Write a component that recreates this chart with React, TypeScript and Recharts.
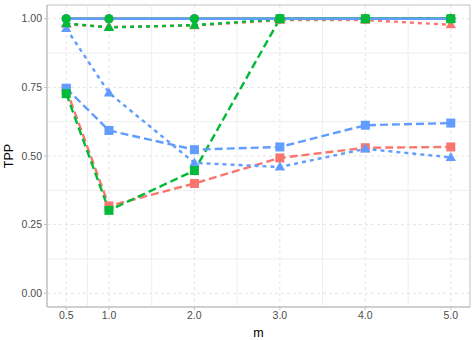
import React from "react";
import { LineChart, Line, XAxis, YAxis, CartesianGrid, ReferenceLine, ReferenceArea } from "recharts";

const mValues = [0.5, 1, 2, 3, 4, 5];
const xTicks = [0.5, 1, 2, 3, 4, 5];
const yTicks = [0, 0.25, 0.5, 0.75, 1];
const xMinor = [0.75, 1.5, 2.5, 3.5, 4.5];
const yMinor = [0.125, 0.375, 0.625, 0.875];

const redCircle = [1, 1, 1, 1, 1, 1];
const redTriangle = [0.98, 0.97, 0.975, 0.995, 0.995, 0.978];
const redSquare = [0.744, 0.318, 0.4, 0.493, 0.53, 0.533];
const greenCircle = [1, 1, 1, 1, 1, 1];
const greenTriangle = [0.983, 0.968, 0.977, 0.998, 1.0, 1.0];
const greenSquare = [0.727, 0.302, 0.447, 1.0, 1.0, 1.0];
const blueCircle = [1, 1, 1, 1, 1, 1];
const blueTriangle = [0.965, 0.73, 0.475, 0.46, 0.526, 0.495];
const blueSquare = [0.747, 0.593, 0.523, 0.533, 0.612, 0.62];

const RED = "#F8766D";
const GREEN = "#00BA38";
const BLUE = "#619CFF";

const series = [
  { key: "rc", vals: redCircle, color: RED, shape: "circle" },
  { key: "rt", vals: redTriangle, color: RED, shape: "triangle" },
  { key: "rs", vals: redSquare, color: RED, shape: "square" },
  { key: "gc", vals: greenCircle, color: GREEN, shape: "circle" },
  { key: "gt", vals: greenTriangle, color: GREEN, shape: "triangle" },
  { key: "gs", vals: greenSquare, color: GREEN, shape: "square" },
  { key: "bc", vals: blueCircle, color: BLUE, shape: "circle" },
  { key: "bt", vals: blueTriangle, color: BLUE, shape: "triangle" },
  { key: "bs", vals: blueSquare, color: BLUE, shape: "square" },
];

const pointOrder = ["rc", "rt", "rs", "bc", "bt", "bs", "gc", "gt", "gs"];

const data = mValues.map((m, i) => {
  const row: any = { m };
  series.forEach((s) => {
    row[s.key] = s.vals[i];
  });
  return row;
});

const dash = (shape: string) =>
  shape === "circle" ? undefined : shape === "square" ? "8 4" : "4 4";

const makeDot = (shape: string, color: string) => (props: any) => {
  const { cx, cy, key } = props;
  if (cx == null || cy == null) return <g key={key} />;
  if (shape === "circle") return <circle key={key} cx={cx} cy={cy} r={4.6} fill={color} />;
  if (shape === "square")
    return <rect key={key} x={cx - 4.5} y={cy - 4.5} width={9} height={9} fill={color} />;
  const h = 9;
  return (
    <polygon
      key={key}
      points={`${cx},${cy - h * 0.6} ${cx - 5.2},${cy + h * 0.4} ${cx + 5.2},${cy + h * 0.4}`}
      fill={color}
    />
  );
};

const tickStyle = { fill: "#4D4D4D", fontSize: 10.5, fontFamily: "Liberation Sans, Arial, sans-serif" };

export default function App() {
  return (
    <div style={{ position: "absolute", left: 0, top: 0, background: "#fff" }}>
      <LineChart
        width={476}
        height={340}
        data={data}
        margin={{ top: 5, right: 6, left: 0, bottom: 0 }}
      >
        <CartesianGrid stroke="#E3E3E3" strokeDasharray="3 3" verticalValues={xTicks} horizontalValues={yTicks} />
        {xMinor.map((v) => (
          <ReferenceLine key={"xm" + v} x={v} stroke="#EDEDED" strokeWidth={1} />
        ))}
        {yMinor.map((v) => (
          <ReferenceLine key={"ym" + v} y={v} stroke="#EDEDED" strokeWidth={1} />
        ))}
        <XAxis
          dataKey="m"
          type="number"
          domain={[0.275, 5.225]}
          ticks={xTicks}
          tickFormatter={(v: number) => v.toFixed(1)}
          allowDataOverflow
          height={33}
          tick={tickStyle}
          tickSize={3}
          tickMargin={2}
          axisLine={{ stroke: "#BFBFBF" }}
          tickLine={{ stroke: "#BFBFBF" }}
          label={{ value: "m", position: "insideBottom", offset: 3, style: { fill: "#000", fontSize: 12.5, fontFamily: "Liberation Sans, Arial, sans-serif" } }}
        />
        <YAxis
          type="number"
          domain={[-0.05, 1.05]}
          ticks={yTicks}
          tickFormatter={(v: number) => v.toFixed(2)}
          allowDataOverflow
          width={47}
          tick={tickStyle}
          tickSize={3}
          tickMargin={2}
          axisLine={{ stroke: "#BFBFBF" }}
          tickLine={{ stroke: "#BFBFBF" }}
          label={{ value: "TPP", angle: -90, position: "insideLeft", offset: 9, style: { fill: "#000", fontSize: 12.5, fontFamily: "Liberation Sans, Arial, sans-serif", textAnchor: "middle" } }}
        />
        <ReferenceArea x1={0.275} x2={5.225} y1={-0.05} y2={1.05} fill="none" stroke="#BFBFBF" strokeWidth={1} ifOverflow="visible" />
        {series.map((s) => (
          <Line
            key={"l" + s.key}
            dataKey={s.key}
            stroke={s.color}
            strokeWidth={2.4}
            strokeDasharray={dash(s.shape)}
            dot={false}
            activeDot={false}
            isAnimationActive={false}
          />
        ))}
        {pointOrder.map((k) => {
          const s = series.find((x) => x.key === k)!;
          return (
            <Line
              key={"p" + s.key}
              dataKey={s.key}
              stroke="none"
              strokeWidth={0}
              dot={makeDot(s.shape, s.color)}
              activeDot={false}
              isAnimationActive={false}
            />
          );
        })}
      </LineChart>
    </div>
  );
}
